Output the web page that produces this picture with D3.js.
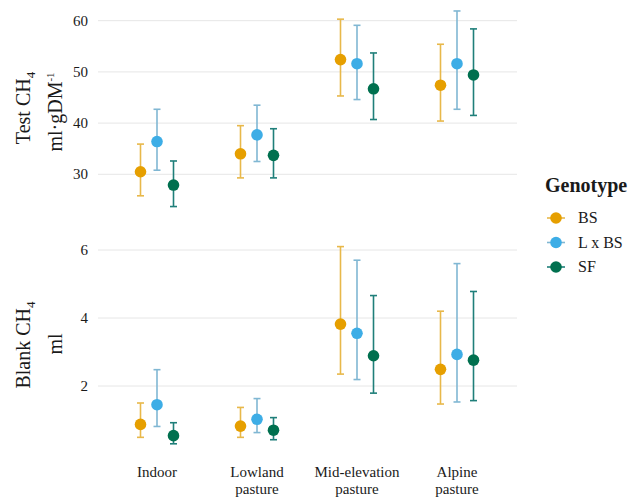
<!DOCTYPE html>
<html>
<head>
<meta charset="utf-8">
<script src="https://cdn.jsdelivr.net/npm/d3@7"></script>
<style>
  body { margin: 0; background: #fff; }
</style>
</head>
<body>
<svg id="chart" width="632" height="497"></svg>
<script>
// categories and genotypes
const sites = ["Indoor", "Lowland pasture", "Mid-elevation pasture", "Alpine pasture"];
const siteLines = [["Indoor"], ["Lowland", "pasture"], ["Mid-elevation", "pasture"], ["Alpine", "pasture"]];
const genotypes = ["BS", "L x BS", "SF"];

// Test CH4 (ml/gDM): mean, lower, upper per genotype, one value per site
const testMean = { "BS": [30.5, 34.0, 52.4, 47.4], "L x BS": [36.4, 37.7, 51.6, 51.6], "SF": [27.9, 33.7, 46.7, 49.4] };
const testLow  = { "BS": [25.8, 29.3, 45.3, 40.4], "L x BS": [30.8, 32.5, 44.6, 42.7], "SF": [23.7, 29.3, 40.7, 41.5] };
const testHigh = { "BS": [35.9, 39.5, 60.3, 55.4], "L x BS": [42.7, 43.5, 59.1, 61.9], "SF": [32.6, 38.9, 53.7, 58.4] };

// Blank CH4 (ml)
const blankMean = { "BS": [0.87, 0.82, 3.82, 2.49], "L x BS": [1.45, 1.02, 3.55, 2.93], "SF": [0.54, 0.70, 2.89, 2.76] };
const blankLow  = { "BS": [0.49, 0.49, 2.35, 1.47], "L x BS": [0.81, 0.63, 2.19, 1.53], "SF": [0.30, 0.42, 1.79, 1.57] };
const blankHigh = { "BS": [1.50, 1.37, 6.10, 4.20], "L x BS": [2.48, 1.63, 5.70, 5.60], "SF": [0.92, 1.07, 4.66, 4.78] };

const testTicks = [30, 40, 50, 60];
const blankTicks = [2, 4, 6];

const pointColor = { "BS": "#E69F00", "L x BS": "#3DADE6", "SF": "#00704F" };
const barColor = { "BS": "#E8B84A", "L x BS": "#80B7D3", "SF": "#1F7F7A" };

const FONT = "'Liberation Serif', 'Times New Roman', 'DejaVu Serif', serif";

const svg = d3.select("#chart")
  .attr("font-family", FONT)
  .style("font-family", FONT);
const left = 98, right = 517;

const x = d3.scaleBand().domain(sites).range([107, 507]);
const dodge = d3.scalePoint().domain(genotypes).range([-16.5, 16.5]);

function label(sel) {
  return sel.attr("font-family", FONT).style("font-family", FONT).attr("fill", "#1a1a1a");
}

function panel(yScale, ticks, mean, low, high) {
  const g = svg.append("g");
  g.selectAll("line.grid").data(ticks).enter().append("line")
    .attr("x1", left).attr("x2", right)
    .attr("y1", d => yScale(d)).attr("y2", d => yScale(d))
    .attr("stroke", "#e6e6e6").attr("stroke-width", 1);
  g.selectAll("text.tick").data(ticks).enter().append("text")
    .attr("x", 88).attr("y", d => yScale(d) + 5)
    .attr("text-anchor", "end").attr("font-size", 15)
    .call(label)
    .text(d => d);

  const rows = [];
  genotypes.forEach(gt => sites.forEach((s, i) => {
    rows.push({ gt, s, m: mean[gt][i], lo: low[gt][i], hi: high[gt][i] });
  }));
  const cx = d => x(d.s) + x.bandwidth() / 2 + dodge(d.gt);

  const eb = g.selectAll("g.eb").data(rows).enter().append("g")
    .attr("stroke", d => barColor[d.gt]).attr("stroke-width", 1.6);
  eb.append("line").attr("x1", cx).attr("x2", cx)
    .attr("y1", d => yScale(d.lo)).attr("y2", d => yScale(d.hi));
  eb.append("line").attr("x1", d => cx(d) - 3.5).attr("x2", d => cx(d) + 3.5)
    .attr("y1", d => yScale(d.lo)).attr("y2", d => yScale(d.lo));
  eb.append("line").attr("x1", d => cx(d) - 3.5).attr("x2", d => cx(d) + 3.5)
    .attr("y1", d => yScale(d.hi)).attr("y2", d => yScale(d.hi));

  g.selectAll("circle").data(rows).enter().append("circle")
    .attr("cx", cx).attr("cy", d => yScale(d.m)).attr("r", 5.8)
    .attr("fill", d => pointColor[d.gt]);
}

const yTest = d3.scaleLinear().domain([30, 60]).range([174.3, 20.7]);
const yBlank = d3.scaleLinear().domain([2, 6]).range([386, 250]);

panel(yTest, testTicks, testMean, testLow, testHigh);
panel(yBlank, blankTicks, blankMean, blankLow, blankHigh);

// y axis titles
function title(cx, cy, parts) {
  const t = svg.append("text")
    .attr("transform", `translate(${cx},${cy}) rotate(-90)`)
    .attr("text-anchor", "middle").attr("font-size", 20)
    .call(label);
  parts.forEach(p => {
    const ts = t.append("tspan").text(p.t);
    if (p.sub) ts.attr("font-size", 13).attr("dy", 5);
    if (p.sup) ts.attr("font-size", 11).attr("dy", -8);
  });
}
title(30, 108, [{ t: "Test CH" }, { t: "4", sub: true }]);
title(62, 112, [{ t: "ml·gDM" }, { t: "-1", sup: true }]);
title(30, 345, [{ t: "Blank CH" }, { t: "4", sub: true }]);
title(62, 344, [{ t: "ml" }]);

// x labels
siteLines.forEach((lines, i) => {
  const t = svg.append("text")
    .attr("x", x(sites[i]) + x.bandwidth() / 2).attr("y", 477)
    .attr("text-anchor", "middle").attr("font-size", 15)
    .call(label);
  lines.forEach((l, j) => t.append("tspan")
    .attr("x", x(sites[i]) + x.bandwidth() / 2).attr("dy", j ? 17 : 0).text(l));
});

// legend
svg.append("text").attr("x", 545).attr("y", 192)
  .attr("font-size", 20).attr("font-weight", "bold").call(label).text("Genotype");
const legY = d3.scalePoint().domain(genotypes).range([218, 267]);
const leg = svg.selectAll("g.leg").data(genotypes).enter().append("g")
  .attr("transform", d => `translate(556,${legY(d)})`);
leg.append("line").attr("x1", -9).attr("x2", 9)
  .attr("stroke", d => barColor[d]).attr("stroke-width", 1.6);
leg.append("circle").attr("r", 5.8).attr("fill", d => pointColor[d]);
leg.append("text").attr("x", 22).attr("y", 5).attr("font-size", 16).call(label).text(d => d);
</script>
</body>
</html>
